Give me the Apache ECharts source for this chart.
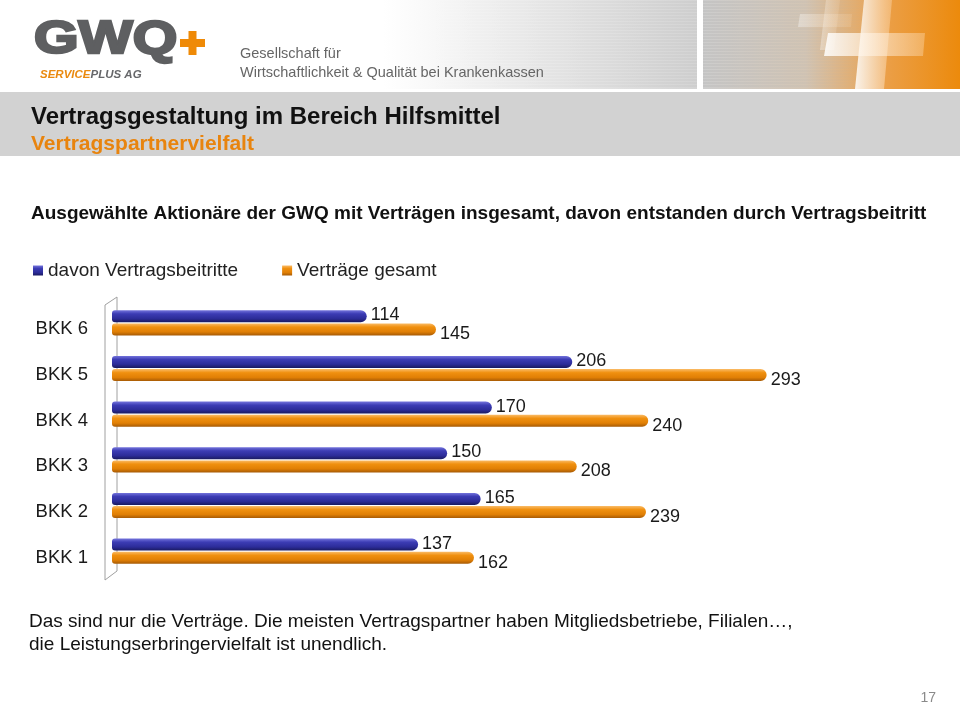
<!DOCTYPE html>
<html>
<head>
<meta charset="utf-8">
<script src="https://cdn.jsdelivr.net/npm/echarts@6/dist/echarts.min.js"></script>
<style>
html,body{margin:0;padding:0;background:#fff;}
#chart{width:960px;height:705px;}
</style>
</head>
<body>
<div id="chart"></div>
<script>
// ---- data ----
const categories = ['BKK 6', 'BKK 5', 'BKK 4', 'BKK 3', 'BKK 2', 'BKK 1'];
const beitritte = [114, 206, 170, 150, 165, 137];
const gesamt = [145, 293, 240, 208, 239, 162];
const seriesNames = ['davon Vertragsbeitritte', 'Verträge gesamt'];

// ---- layout ----
const FONT = "'Liberation Sans', Arial, Helvetica, sans-serif";
const G = { left: 112, top: 300, width: 782, height: 274 };

const chart = echarts.init(document.getElementById('chart'), null, { renderer: 'canvas' });

function grad(stops) {
  return new echarts.graphic.LinearGradient(0, 0, 0, 1, stops.map((c) => ({ offset: c[0], color: c[1] })));
}
const blueFill = grad([[0, '#7474dc'], [0.3, '#3c3cb4'], [0.7, '#2c2c98'], [1, '#1a1a60']]);
const orangeFill = grad([[0, '#fabb66'], [0.3, '#f0900f'], [0.7, '#e07f05'], [1, '#a65a05']]);

// header graphics (decoration)
const header = [];
header.push({ type: 'rect', z: 0, shape: { x: 0, y: 0, width: 697, height: 89 },
  style: { fill: new echarts.graphic.LinearGradient(0, 0, 1, 0, [
    { offset: 0, color: '#ffffff' }, { offset: 0.55, color: '#ffffff' }, { offset: 1, color: '#d4d4d4' }]) } });
for (let y = 2; y < 89; y += 3) {
  header.push({ type: 'line', z: 1, shape: { x1: 430, y1: y, x2: 697, y2: y },
    style: { lineWidth: 1, stroke: new echarts.graphic.LinearGradient(0, 0, 1, 0, [
      { offset: 0, color: 'rgba(200,200,200,0)' }, { offset: 1, color: 'rgba(185,185,185,0.45)' }]) } });
}
header.push({ type: 'rect', z: 0, shape: { x: 703, y: 0, width: 257, height: 89 },
  style: { fill: new echarts.graphic.LinearGradient(0, 0, 1, 0, [
    { offset: 0, color: '#cdcdcd' }, { offset: 0.4, color: '#d3c5b4' }, { offset: 0.7, color: '#eba04a' }, { offset: 1, color: '#ec8a0c' }]) } });
for (let y = 2; y < 89; y += 3) {
  header.push({ type: 'line', z: 1, shape: { x1: 703, y1: y, x2: 880, y2: y },
    style: { lineWidth: 1, stroke: new echarts.graphic.LinearGradient(0, 0, 1, 0, [
      { offset: 0, color: 'rgba(170,170,170,0.5)' }, { offset: 1, color: 'rgba(170,170,170,0)' }]) } });
}
const plusFill = (a) => new echarts.graphic.LinearGradient(0, 0, 1, 0, [
  { offset: 0, color: 'rgba(255,255,255,' + a + ')' }, { offset: 1, color: 'rgba(255,230,200,' + (a * 0.4) + ')' }]);
// small faded plus
header.push({ type: 'polygon', z: 2, shape: { points: [[826, 0], [840, 0], [834, 50], [820, 50]] }, style: { fill: plusFill(0.35) } });
header.push({ type: 'polygon', z: 2, shape: { points: [[800, 14], [852, 14], [851, 27], [798, 27]] }, style: { fill: plusFill(0.35) } });
// big plus
header.push({ type: 'polygon', z: 3, shape: { points: [[864, 0], [892, 0], [884, 89], [855, 89]] }, style: { fill: plusFill(0.85) } });
header.push({ type: 'polygon', z: 3, shape: { points: [[828, 33], [925, 33], [923, 56], [824, 56]] }, style: { fill: plusFill(0.85) } });
// grey title band
header.push({ type: 'rect', z: 0, shape: { x: 0, y: 92, width: 960, height: 64 }, style: { fill: '#d2d2d2' } });

// logo
header.push({ type: 'text', z: 5, x: 34, y: 40, scaleX: 1.22,
  style: { text: 'GWQ', font: 'bold 47px ' + FONT, fill: '#5e5f61', stroke: '#5e5f61', lineWidth: 2.5, verticalAlign: 'middle' } });
header.push({ type: 'rect', z: 6, shape: { x: 180, y: 39, width: 25, height: 8 }, style: { fill: '#ef8a07' } });
header.push({ type: 'rect', z: 6, shape: { x: 188.5, y: 31, width: 8, height: 24 }, style: { fill: '#ef8a07' } });
header.push({ type: 'text', z: 5, x: 40, y: 74.5,
  style: { text: '{o|SERVICE}{g|PLUS AG}', verticalAlign: 'middle',
    rich: { o: { font: 'italic bold 11.5px ' + FONT, fill: '#ea8a10' }, g: { font: 'italic bold 11.5px ' + FONT, fill: '#66676a' } } } });
header.push({ type: 'text', z: 5, x: 240, y: 54,
  style: { text: 'Gesellschaft für', font: '14.5px ' + FONT, fill: '#666', verticalAlign: 'middle' } });
header.push({ type: 'text', z: 5, x: 240, y: 73,
  style: { text: 'Wirtschaftlichkeit & Qualität bei Krankenkassen', font: '14.5px ' + FONT, fill: '#666', verticalAlign: 'middle' } });

// titles
header.push({ type: 'text', z: 5, x: 31, y: 117,
  style: { text: 'Vertragsgestaltung im Bereich Hilfsmittel', font: 'bold 24px ' + FONT, fill: '#111', verticalAlign: 'middle' } });
header.push({ type: 'text', z: 5, x: 31, y: 144.5,
  style: { text: 'Vertragspartnervielfalt', font: 'bold 21px ' + FONT, fill: '#e8840e', verticalAlign: 'middle' } });
header.push({ type: 'text', z: 5, x: 31, y: 214,
  style: { text: 'Ausgewählte Aktionäre der GWQ mit Verträgen insgesamt, davon entstanden durch Vertragsbeitritt', font: 'bold 19px ' + FONT, fill: '#111', verticalAlign: 'middle' } });

// footer
header.push({ type: 'text', z: 5, x: 29, y: 622,
  style: { text: 'Das sind nur die Verträge. Die meisten Vertragspartner haben Mitgliedsbetriebe, Filialen…,', font: '19px ' + FONT, fill: '#111', verticalAlign: 'middle' } });
header.push({ type: 'text', z: 5, x: 29, y: 645,
  style: { text: 'die Leistungserbringervielfalt ist unendlich.', font: '19px ' + FONT, fill: '#111', verticalAlign: 'middle' } });
header.push({ type: 'text', z: 5, x: 936, y: 698,
  style: { text: '17', font: '14px ' + FONT, fill: '#8a8a8a', align: 'right', verticalAlign: 'middle' } });

// 3D wall next to the category axis
const wl = G.left - 7, wr = G.left + 5, wt = G.top - 3, wb = G.top + G.height + 3;
header.push({ type: 'polyline', z: 0, shape: { points: [[wr, wt], [wl, wt + 8], [wl, wb + 3], [wr, wb - 6], [wr, wt]] },
  style: { stroke: '#a0a0a0', lineWidth: 1, fill: null } });

const option = {
  backgroundColor: '#ffffff',
  animation: false,
  color: ['#2f2fa0', '#e8870a'],
  textStyle: { fontFamily: FONT },
  graphic: { elements: header },
  legend: {
    data: seriesNames,
    left: 28, top: 256,
    icon: 'rect', itemWidth: 10, itemHeight: 10, itemGap: 44,
    textStyle: { fontSize: 19, color: '#222', fontFamily: FONT }
  },
  grid: G,
  xAxis: { type: 'value', min: 0, max: 350, show: false },
  yAxis: {
    type: 'category', data: categories, inverse: true,
    axisLine: { show: false }, axisTick: { show: false },
    axisLabel: { fontSize: 18.5, color: '#1a1a1a', margin: 24, fontFamily: FONT, verticalAlign: 'top', lineHeight: 13 }
  },
  series: [
    {
      name: seriesNames[0], type: 'bar', data: beitritte,
      barWidth: 12, barGap: '10%', z: 3,
      itemStyle: { color: blueFill, borderRadius: [3, 6, 6, 3] },
      label: { show: true, position: 'right', distance: 4, offset: [0, -1], fontSize: 18, color: '#1a1a1a', fontFamily: FONT }
    },
    {
      name: seriesNames[1], type: 'bar', data: gesamt,
      barWidth: 12, z: 3,
      itemStyle: { color: orangeFill, borderRadius: [3, 6, 6, 3] },
      label: { show: true, position: 'right', distance: 4, offset: [0, 5], fontSize: 18, color: '#1a1a1a', fontFamily: FONT }
    }
  ]
};
chart.setOption(option);
</script>
</body>
</html>
